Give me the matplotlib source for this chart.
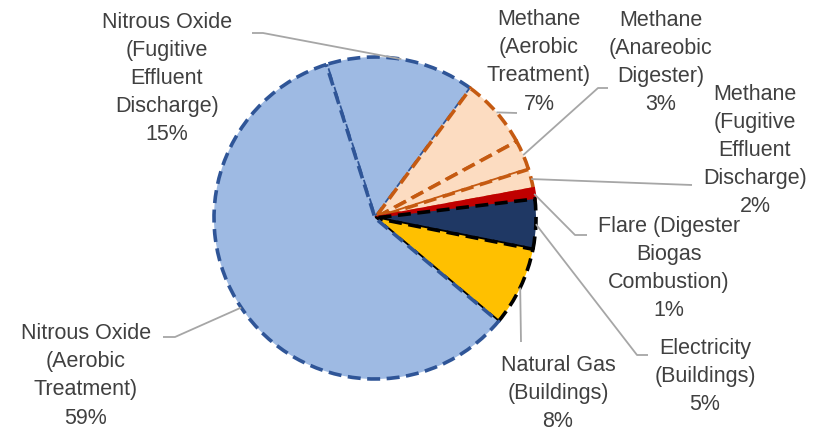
import numpy as np
import matplotlib
matplotlib.use("Agg")
import matplotlib.pyplot as plt

W, H = 817, 430

labels = [
    "Nitrous Oxide\n(Fugitive\nEffluent\nDischarge)",
    "Methane\n(Aerobic\nTreatment)",
    "Methane\n(Anareobic\nDigester)",
    "Methane\n(Fugitive\nEffluent\nDischarge)",
    "Flare (Digester\nBiogas\nCombustion)",
    "Electricity\n(Buildings)",
    "Natural Gas\n(Buildings)",
    "Nitrous Oxide\n(Aerobic\nTreatment)",
]
shares = [15, 7, 3, 2, 1, 5, 8, 59]

fills = ["#9EBAE3", "#FCDCC1", "#FCDCC1", "#FCDCC1", "#C00000", "#1F3864", "#FFC000", "#9EBAE3"]
edges = ["#2F5597", "#C55A11", "#C55A11", "#C55A11", "#C00000", "#000000", "#000000", "#2F5597"]

# label placement (pixel coords, y down): centre x, first-line baseline
label_pos = [(167, 30), (539, 27), (661, 28), (755, 102), (669, 234), (705, 355), (558, 372), (86, 341)]
# leader elbows / ends (pixel coords)
leader_pts = [
    [(263, 33), (252, 33)],
    [(517, 113)],
    [(598, 88), (608, 88)],
    [(692, 185)],
    [(575, 235), (587, 235)],
    [(637, 355), (648, 355)],
    [(521, 342)],
    [(175, 337), (163, 337)],
]

cx, cy, r = 375, 218, 161
start = 107.6
line_gap = 27.5

plt.rcParams["font.family"] = ["Liberation Sans", "DejaVu Sans"]

fig = plt.figure(figsize=(W / 100, H / 100), dpi=100)
ax = fig.add_axes([0, 0, 1, 1])

wedges, _ = ax.pie(shares, colors=fills, startangle=start, counterclock=False,
                   center=(cx, H - cy), radius=r, frame=True,
                   wedgeprops=dict(linewidth=2.6))
for w, ec in zip(wedges, edges):
    w.set_edgecolor(ec)
    if ec != "#C00000":
        w.set_linestyle((0, (3.6, 1.8)))

ax.set_xlim(0, W)
ax.set_ylim(0, H)
ax.set_aspect("equal")
ax.axis("off")

total = sum(shares)
ang = start
for i, (lab, s) in enumerate(zip(labels, shares)):
    mid = ang - s / total * 360 / 2
    ang -= s / total * 360
    x0 = cx + r * np.cos(np.radians(mid))
    y0 = cy - r * np.sin(np.radians(mid))
    pts = [(x0, y0)] + leader_pts[i]
    ax.plot([p[0] for p in pts], [H - p[1] for p in pts], color="#A6A6A6", lw=1.3,
            solid_capstyle="butt")
    txt = f"{lab}\n{s}%"
    lx, ly = label_pos[i]
    last = ly + (txt.count("\n")) * line_gap
    ax.text(lx, H - last, txt, ha="center", va="baseline", fontsize=15.5,
            color="#404040", linespacing=1.445, multialignment="center")

fig.savefig("out.png", dpi=100)
